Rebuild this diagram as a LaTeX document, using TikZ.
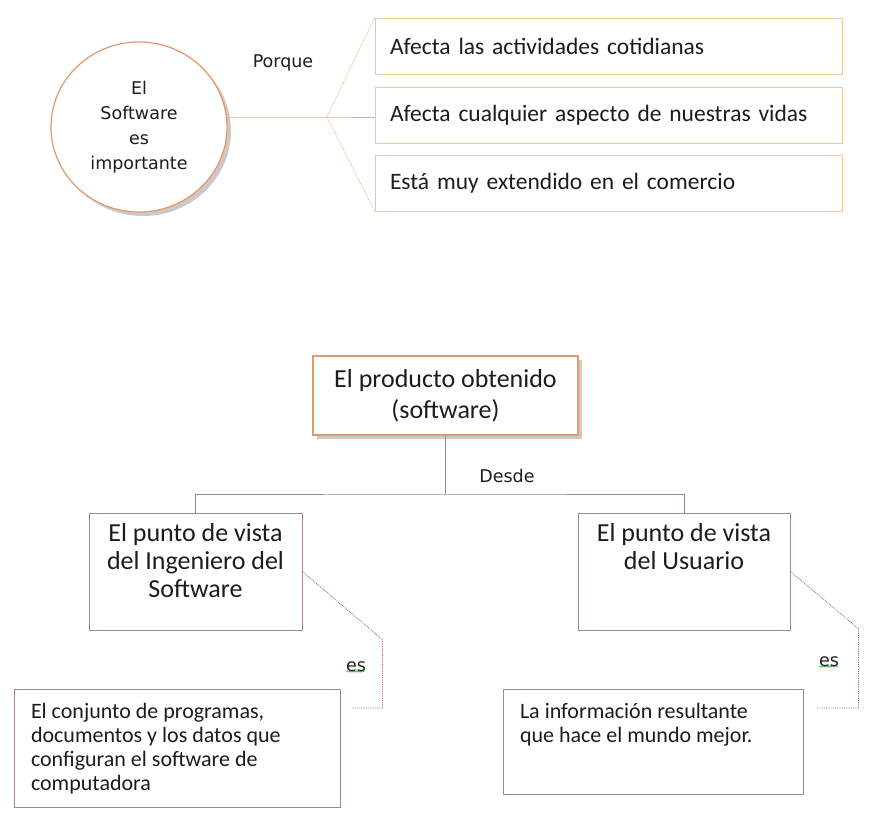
\documentclass[tikz,border=0pt]{standalone}
\usepackage{fontspec}
\setmainfont{Carlito}
\newfontfamily\labelfont{DejaVu Sans}
\usetikzlibrary{shapes.geometric,shadows,decorations.pathmorphing}

\definecolor{ovalline}{RGB}{226,152,104}
\definecolor{tanline}{RGB}{236,200,150}
\definecolor{fanline}{RGB}{226,176,130}
\definecolor{boxline}{RGB}{158,138,138}
\definecolor{dotline}{RGB}{140,100,100}
\definecolor{inkcol}{RGB}{28,28,28}

\begin{document}
\begin{tikzpicture}[x=1pt,y=-1pt,
        every node/.style={text=inkcol},
        reason/.style={draw=tanline, line width=0.8pt, minimum width=467pt, minimum height=56pt,
            text width=437pt, align=left, inner xsep=15pt, font=\fontsize{23.5}{28}\selectfont},
        tag/.style={font=\labelfont\fontsize{17.5}{25}\selectfont},
        viewbox/.style={draw=boxline, line width=0.8pt, inner sep=10pt, font=\fontsize{26}{28}\selectfont},
        meanbox/.style={draw=boxline, line width=0.8pt, inner xsep=17pt, inner ysep=14pt, font=\fontsize{22}{24}\selectfont},
        greyshadow/.style={drop shadow={shadow xshift=4pt, shadow yshift=-4pt, fill=black!35, opacity=0.6}}]
    \useasboundingbox (0,0) rectangle (869,816);

    % first map
    \node[draw=ovalline, line width=1.2pt, ellipse, fill=white, greyshadow,
          minimum width=176pt, minimum height=170pt, align=center, tag] (sw) at (139,127)
          {El\\Software\\es\\importante};
    \node[tag] (why) at (283,63) {Porque};
    \coordinate (fan) at (327,117);

    \node[reason] (r1) at (608.5,46) {Afecta las actividades cotidianas};
    \node[reason] (r2) at (608.5,115.5) {Afecta cualquier aspecto de nuestras vidas};
    \node[reason] (r3) at (608.5,183) {Está muy extendido en el comercio};

    \draw[fanline, line width=0.9pt] (sw.east |- fan) -- (fan) -- (r2.west |- fan);
    \draw[fanline, densely dotted, line width=0.8pt] (fan) -- (r1.north west);
    \draw[fanline, densely dotted, line width=0.8pt] (fan) -- (r3.south west);

    % second map
    \node[draw=ovalline, line width=1.2pt, fill=white, greyshadow, minimum width=265pt, minimum height=79pt,
          align=center, font=\fontsize{26}{31}\selectfont] (prod) at (445.5,395.5)
          {El producto obtenido\\(software)};
    \node[tag] (from) at (507,476) {Desde};
    \coordinate (split) at (449,494);

    \node[viewbox] (vi) at (195.5,571.5)
        {\parbox[c][97pt][t]{193pt}{\centering El punto de vista\\del Ingeniero del\\Software}};
    \node[viewbox] (vu) at (684,571.5)
        {\parbox[c][97pt][t]{192pt}{\centering El punto de vista\\del Usuario}};

    \draw[boxline, line width=0.9pt] (prod.south) -- (prod.south |- split);
    \draw[boxline, line width=0.9pt] (vi.north) |- (split) -| (vu.north);

    \node[meanbox] (im) at (177,748)
        {\parbox[c][90pt][t]{292pt}{El conjunto de programas,\\documentos y los datos que\\configuran el software de\\computadora}};
    \node[meanbox] (um) at (653,741.5)
        {\parbox[c][77pt][t]{266pt}{La información resultante\\que hace el mundo mejor.}};

    \node[tag] (is1) at (356,667) {es};
    \node[tag] (is2) at (829,662) {es};
    \draw[green!60!black, line width=0.5pt, decorate, decoration={snake, amplitude=0.8pt, segment length=3pt}]
        (is1.south west) ++(4,-4) -- ++(18,0);
    \draw[green!60!black, line width=0.5pt, decorate, decoration={snake, amplitude=0.8pt, segment length=3pt}]
        (is2.south west) ++(4,-4) -- ++(18,0);

    \coordinate (ik) at (352,708);
    \coordinate (uk) at (817,708);
    \draw[dotline, densely dotted, line width=0.8pt] (vi.east) -- ++(80,68) |- (ik);
    \draw[dotline, densely dotted, line width=0.8pt] (vu.east) -- ++(68,57) |- (uk);
\end{tikzpicture}
\end{document}
